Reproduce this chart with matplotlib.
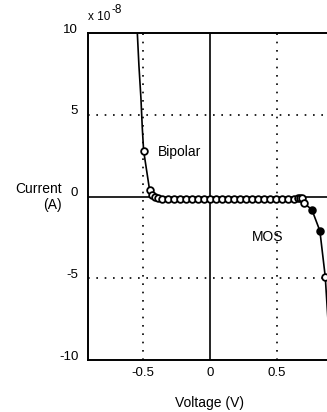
import numpy as np
import matplotlib.pyplot as plt
import matplotlib.transforms as mtransforms

plt.rcParams['font.family'] = ['Liberation Sans', 'DejaVu Sans']

# curve through all points (volts, units of 1e-8 A)
volts = [-0.545, -0.53, -0.515, -0.505, -0.495, -0.45, -0.43, -0.41, -0.39,
         -0.36, -0.315, -0.27, -0.225, -0.18, -0.135, -0.09, -0.045, 0.0,
         0.045, 0.09, 0.135, 0.18, 0.225, 0.27, 0.315, 0.36, 0.405, 0.45,
         0.495, 0.54, 0.585, 0.63, 0.655, 0.67, 0.685, 0.70, 0.76, 0.82,
         0.86, 0.88]
current = [10.5, 8.0, 6.0, 4.2, 2.8, 0.37, 0.1, 0.0, -0.1,
           -0.15, -0.15, -0.15, -0.15, -0.15, -0.15, -0.15, -0.15, -0.15,
           -0.15, -0.15, -0.15, -0.15, -0.15, -0.15, -0.15, -0.15, -0.15, -0.15,
           -0.15, -0.15, -0.15, -0.15, -0.12, -0.08, -0.12, -0.4, -0.8, -2.1,
           -4.9, -7.5]

# measured points drawn as markers
open_v = [-0.495, -0.45, -0.43, -0.41, -0.39, -0.36, -0.315, -0.27, -0.225,
          -0.18, -0.135, -0.09, -0.045, 0.0, 0.045, 0.09, 0.135, 0.18, 0.225,
          0.27, 0.315, 0.36, 0.405, 0.45, 0.495, 0.54, 0.585, 0.63, 0.655,
          0.67, 0.685, 0.70, 0.86]
open_i = [2.8, 0.37, 0.1, 0.0, -0.1, -0.15, -0.15, -0.15, -0.15,
          -0.15, -0.15, -0.15, -0.15, -0.15, -0.15, -0.15, -0.15, -0.15, -0.15,
          -0.15, -0.15, -0.15, -0.15, -0.15, -0.15, -0.15, -0.15, -0.15, -0.12,
          -0.08, -0.12, -0.4, -4.9]
filled_v = [0.76, 0.82]
filled_i = [-0.8, -2.1]

xticks = [-0.5, 0, 0.5]
xticklabels = ['-0.5', '0', '0.5']
yticks = [-10, -5, 0, 5, 10]
yticklabels = ['-10', '-5', '0', '5', '10']

W, H = 327, 412
fig = plt.figure(figsize=(W / 100, H / 100), dpi=100)
ax = fig.add_axes([88 / W, 52 / H, 242.6 / W, 327 / H])
ax.set_xlim(-0.91, 0.9)
ax.set_ylim(-10, 10)

# grid: dotted at +-0.5 / +-5, solid through zero
for v in [-0.5, 0.5]:
    ax.axvline(v, color='k', lw=1.2, ls=(0, (1, 4)), zorder=1)
for c in [-5, 5]:
    ax.axhline(c, color='k', lw=1.2, ls=(0, (1, 4)), zorder=1)
ax.axvline(0, color='k', lw=1.2, zorder=1)
ax.axhline(0, color='k', lw=1.2, zorder=1)

ax.plot(volts, current, color='k', lw=1.2, zorder=2)
ax.plot(open_v, open_i, 'o', ms=4.8, mfc='white', mec='k', mew=1.3, zorder=3)
ax.plot(filled_v, filled_i, 'o', ms=4.8, mfc='k', mec='k', mew=1.3, zorder=3)

ax.text(-0.385, 2.7, 'Bipolar', fontsize=10, ha='left', va='center')
ax.text(0.43, -2.45, 'MOS', fontsize=10, ha='center', va='center')

for s in ax.spines.values():
    s.set_linewidth(1.4)

ax.set_xticks(xticks)
ax.set_xticklabels(xticklabels)
ax.set_yticks(yticks)
ax.set_yticklabels(yticklabels)
ax.tick_params(length=0, labelsize=9.5)
ax.tick_params(axis='y', pad=7)
ax.tick_params(axis='x', pad=5)

# y tick labels sit a bit above their gridlines in the reference
off = mtransforms.ScaledTranslation(0, 5 / 100, fig.dpi_scale_trans)
for lab in ax.get_yticklabels():
    lab.set_transform(lab.get_transform() + off)

ax.set_xlabel('Voltage (V)', fontsize=10, labelpad=12)
fig.text(62 / W, 1 - 197 / H, 'Current\n(A)', fontsize=10, ha='right',
         va='center', multialignment='right', linespacing=1.1)

fig.text(88 / W, 1 - 20 / H, 'x 10', fontsize=8.5, ha='left', va='baseline')
fig.text(112 / W, 1 - 13 / H, '-8', fontsize=8.5, ha='left', va='baseline')

fig.savefig('out.png', dpi=100)
